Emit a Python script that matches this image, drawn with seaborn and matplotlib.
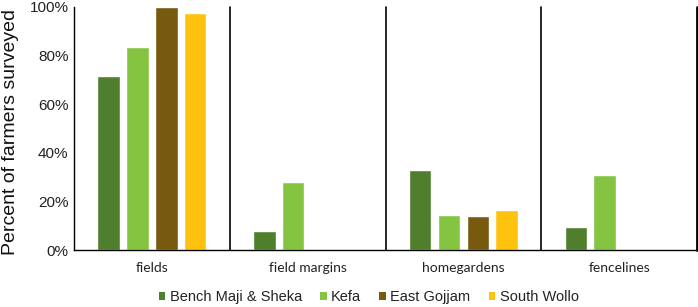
import matplotlib
matplotlib.use("Agg")
import matplotlib.pyplot as plt
import seaborn as sns
import pandas as pd
from matplotlib.ticker import PercentFormatter
from matplotlib.patches import Patch

locations = ["fields", "field margins", "homegardens", "fencelines"]
regions = ["Bench Maji & Sheka", "Kefa", "East Gojjam", "South Wollo"]
bench = [71.5, 8, 33, 9.5]
kefa = [83.5, 28, 14.5, 31]
gojjam = [100, 0, 14, 0]
wollo = [97.5, 0, 16.5, 0]
colors = ["#4F7F2D", "#84C441", "#775A0E", "#FFC20E"]

rows = []
for reg, vals in zip(regions, [bench, kefa, gojjam, wollo]):
    for loc, v in zip(locations, vals):
        rows.append({"location": loc, "region": reg, "value": v})
df = pd.DataFrame(rows)

sns.set_theme(style="white")
plt.rcParams["font.family"] = ["Liberation Sans", "DejaVu Sans"]

fig = plt.figure(figsize=(6.98, 3.07), dpi=100)
ax = fig.add_axes([74/698, 1-250/307, 623/698, 243/307])
sns.barplot(data=df, x="location", y="value", hue="region", order=locations,
            hue_order=regions, palette=colors, width=0.74, gap=0.22,
            saturation=1, ax=ax, legend=False, errorbar=None)

ax.set_xlim(-0.5, 3.5)
ax.set_ylim(0, 100)
ax.set_yticks([0, 20, 40, 60, 80, 100])
ax.yaxis.set_major_formatter(PercentFormatter(decimals=0))
ax.tick_params(axis="y", length=0, labelsize=11, pad=4, labelcolor="#222222")
ax.tick_params(axis="x", length=0, pad=9, labelcolor="#222222")
for lab in ax.get_xticklabels():
    lab.set_fontfamily(["Lato", "DejaVu Sans"])
    lab.set_fontsize(10)
ax.set_xlabel("")
ax.set_ylabel("Percent of farmers surveyed", fontsize=14, color="#111111")
ax.yaxis.set_label_coords(-0.088, 0.485)

for s in ["top", "right"]:
    ax.spines[s].set_visible(False)
for s in ["left", "bottom"]:
    ax.spines[s].set_color("black")
    ax.spines[s].set_linewidth(1.0)
for xb in [0.5, 1.5, 2.5, 3.5]:
    ax.axvline(xb, color="black", lw=1.2 if xb < 3.5 else 2.0, clip_on=False)

handles = [Patch(facecolor=c, edgecolor="none") for c in colors]
fig.legend(handles, regions, loc="center", bbox_to_anchor=(0.528, 0.033),
           ncol=4, frameon=False, fontsize=10.5, handlelength=0.45,
           handleheight=0.45, handletextpad=0.3, columnspacing=1.25,
           labelcolor="#222222")

fig.savefig("out.png", dpi=100)
